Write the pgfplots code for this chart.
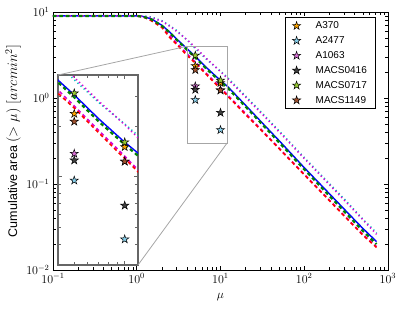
\documentclass[border=0pt]{standalone}
\usepackage{pgfplots}
\usepackage{pgfplotstable}
\pgfplotsset{compat=1.18}
\usepackage{fontspec}
\setmainfont{Liberation Sans}

\definecolor{mgreen}{rgb}{0,0.5,0}
\definecolor{mcyan}{rgb}{0,0.75,0.75}
\definecolor{mmag}{rgb}{0.85,0,0.85}
\definecolor{sorange}{rgb}{1,0.65,0}
\definecolor{sblue}{rgb}{0.53,0.81,0.92}
\definecolor{sviolet}{rgb}{0.85,0.44,0.84}
\definecolor{sgray}{rgb}{0.25,0.25,0.25}
\definecolor{sygreen}{rgb}{0.60,0.80,0.20}
\definecolor{sbrown}{rgb}{0.63,0.32,0.18}

\pgfdeclareplotmark{fstar}{%
  \pgfpathmoveto{\pgfpointpolar{90}{\pgfplotmarksize}}%
  \pgfpathlineto{\pgfpointpolar{126}{0.382\pgfplotmarksize}}%
  \pgfpathlineto{\pgfpointpolar{162}{\pgfplotmarksize}}%
  \pgfpathlineto{\pgfpointpolar{198}{0.382\pgfplotmarksize}}%
  \pgfpathlineto{\pgfpointpolar{234}{\pgfplotmarksize}}%
  \pgfpathlineto{\pgfpointpolar{270}{0.382\pgfplotmarksize}}%
  \pgfpathlineto{\pgfpointpolar{306}{\pgfplotmarksize}}%
  \pgfpathlineto{\pgfpointpolar{342}{0.382\pgfplotmarksize}}%
  \pgfpathlineto{\pgfpointpolar{18}{\pgfplotmarksize}}%
  \pgfpathlineto{\pgfpointpolar{54}{0.382\pgfplotmarksize}}%
  \pgfpathclose
  \pgfusepathqfillstroke
}

\pgfplotstableread{
mu    blue   green  cyan   mdot   mdash  red
0.1   9.0    9.0    9.0    9.0    9.0    9.0
1.0   9.0    9.0    9.0    9.0    9.0    9.0
1.2   8.85   8.8    9.0    8.95   8.8    8.75
1.5   8.3    8.2    8.75   8.6    8.0    7.9
2     7.0    6.9    7.9    7.8    6.8    6.6
2.5   5.8    5.7    6.9    6.8    5.3    5.0
3     4.85   4.75   6.1    5.95   4.35   4.2
4     3.73   3.62   4.7    4.75   3.26   3.12
5     3.05   2.95   3.75   3.88   2.62   2.55
7     2.2    2.12   2.75   2.8    1.88   1.82
10    1.6    1.55   2.05   2.03   1.32   1.28
12    1.38   1.33   1.75   1.7    1.1    1.07
20    0.82   0.79   1.05   1.02   0.66   0.64
30    0.54   0.52   0.70   0.68   0.44   0.43
50    0.32   0.305  0.415  0.405  0.262  0.258
100   0.155  0.148  0.203  0.198  0.13   0.128
200   0.077  0.0725 0.101  0.098  0.065  0.064
300   0.051  0.048  0.067  0.065  0.043  0.0425
500   0.0305 0.0285 0.039  0.0385 0.026  0.0255
730   0.0214 0.0200 0.027  0.026  0.0187 0.0183
}\curves

\pgfplotstableread{
mu  a370  a2477 a1063 m0416 m0717 m1149
5   2.36  0.95  1.37  1.25  3.12  2.12
10  1.50  0.426 1.23  0.675 1.60  1.23
}\stars

\newcommand\drawcurves{%
  \addplot[forget plot, color=blue, line width=1.4pt] table[x=mu,y=blue] {\curves};
  \addplot[forget plot, color=mcyan, line width=1.6pt, dash pattern=on 1.2pt off 3pt] table[x=mu,y=cyan] {\curves};
  \addplot[forget plot, color=mmag, line width=1.6pt, dash pattern=on 1.2pt off 3pt] table[x=mu,y=mdot] {\curves};
  \addplot[forget plot, color=mmag, line width=1.6pt, dash pattern=on 3.5pt off 3pt] table[x=mu,y=mdash] {\curves};
  \addplot[forget plot, color=red, line width=1.6pt, dash pattern=on 3.5pt off 3pt] table[x=mu,y=red] {\curves};
  \addplot[forget plot, color=mgreen, line width=2.2pt, dash pattern=on 3.5pt off 3pt] table[x=mu,y=green] {\curves};
}
\newcommand\drawstars{%
  \addplot[only marks, mark=fstar, mark size=4.3pt, draw=black, line width=0.5pt, fill=sorange] table[x=mu,y=a370] {\stars};
  \addplot[only marks, mark=fstar, mark size=4.3pt, draw=black, line width=0.5pt, fill=sblue] table[x=mu,y=a2477] {\stars};
  \addplot[only marks, mark=fstar, mark size=4.3pt, draw=black, line width=0.5pt, fill=sviolet] table[x=mu,y=a1063] {\stars};
  \addplot[only marks, mark=fstar, mark size=4.3pt, draw=black, line width=0.5pt, fill=sgray] table[x=mu,y=m0416] {\stars};
  \addplot[only marks, mark=fstar, mark size=4.3pt, draw=black, line width=0.5pt, fill=sygreen] table[x=mu,y=m0717] {\stars};
  \addplot[only marks, mark=fstar, mark size=4.3pt, draw=black, line width=0.5pt, fill=sbrown] table[x=mu,y=m1149] {\stars};
}

\begin{document}
\begin{tikzpicture}
\path[use as bounding box] (-53pt,-39pt) rectangle (349pt,270pt);
\begin{axis}[
  at={(0,0)}, anchor=south west, scale only axis,
  width=335pt, height=258pt,
  xmode=log, ymode=log,
  xmin=0.1, xmax=1000, ymin=0.01, ymax=10,
  axis line style={line width=0.8pt},
  tick style={black, line width=0.5pt},
  tick label style={font=\fontsize{12}{14}\selectfont},
  xlabel={$\mu$}, 
  ylabel={Cumulative area {\fontsize{14.5}{16}\selectfont$(>\mu)$ $[arcmin^2]$}},
  label style={font=\fontsize{12.5}{14}\selectfont},
  xlabel style={at={(axis description cs:0.5,-0.105)}, anchor=center},
  ylabel style={at={(axis description cs:-0.119,0.5)}, anchor=center},
  legend entries={A370,A2477,A1063,MACS0416,MACS0717,MACS1149},
  legend style={at={(axis description cs:0.965,0.98)}, anchor=north east,
    draw=black, line width=0.9pt, font=\fontsize{10}{12}\selectfont,
    row sep=2.4pt, inner xsep=7pt, inner ysep=2pt,
    /tikz/every odd column/.append style={column sep=13pt}},
  legend cell align=left,
]
\drawcurves
\drawstars
\draw[gray!70, line width=0.8pt] (axis cs:4,0.3) rectangle (axis cs:12,4);
\coordinate (r1) at (axis cs:4,4);
\coordinate (r2) at (axis cs:12,0.3);
\end{axis}
\begin{axis}[
  name=inset,
  at={(5pt,5pt)}, anchor=south west, scale only axis,
  width=80pt, height=190pt,
  xmode=log, ymode=log,
  xmin=4, xmax=12, ymin=0.3, ymax=4,
  xtick={10}, ytick={1},
  minor xtick={4,5,6,7,8,9},
  minor ytick={0.3,0.4,0.5,0.6,0.7,0.8,0.9,2,3,4},
  xticklabels={}, yticklabels={},
  axis line style={draw=black!60, line width=1.1pt},
  tick style={black!60, line width=0.5pt},
  axis background/.style={fill=white},
]
\drawcurves
\drawstars
\end{axis}
\draw[gray!70, line width=0.8pt] (inset.north west) -- (r1);
\draw[gray!70, line width=0.8pt] (inset.south east) -- (r2);
\end{tikzpicture}
\end{document}
